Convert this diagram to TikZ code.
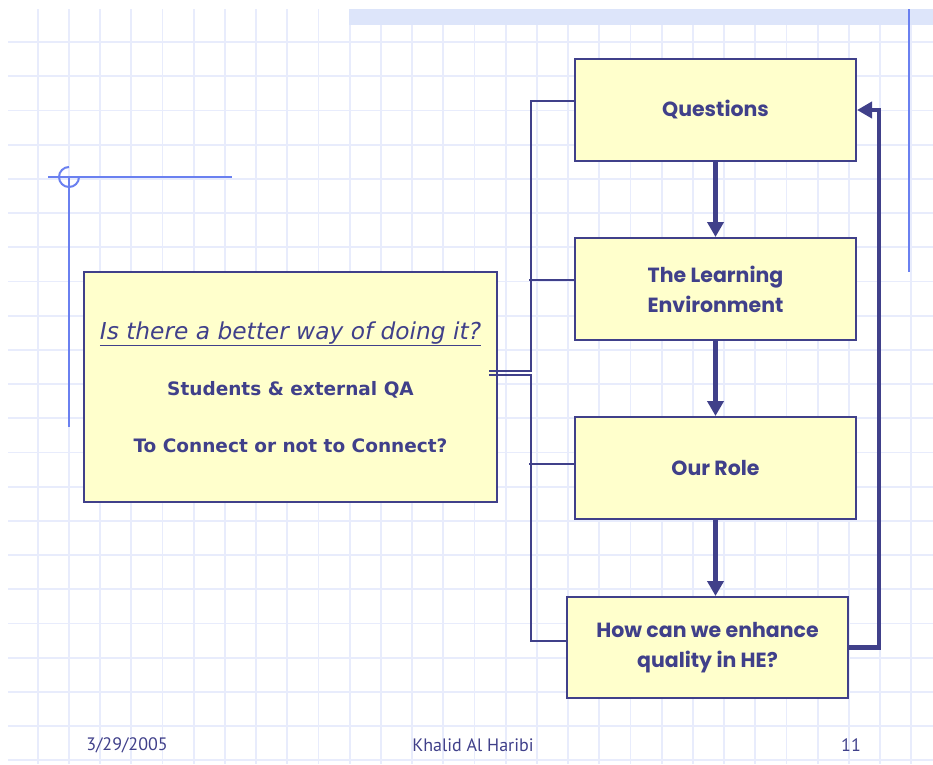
\documentclass[tikz,border=0pt]{standalone}
\usepackage{fontspec}
\usepackage{tikz}
\usetikzlibrary{arrows.meta}
\setmainfont{DejaVu Sans}
\newfontfamily\boxfont{Poppins}
\newfontfamily\footfont{PT Sans}
\definecolor{navy}{RGB}{64,64,138}
\definecolor{paper}{RGB}{255,255,204}
\definecolor{gridblue}{RGB}{232,236,252}
\definecolor{bannerblue}{RGB}{221,229,250}
\definecolor{rulerblue}{RGB}{106,128,240}
\tikzset{
    stage/.style={draw=navy, line width=2pt, fill=paper, text=navy,
        minimum width=281pt, minimum height=102pt, align=center,
        font=\boxfont\bfseries\fontsize{20.5}{30}\selectfont},
    flow/.style={draw=navy, line width=4.5pt,
        -{Triangle[length=15pt,width=16pt]}},
    link/.style={draw=navy, line width=2pt},
    footer/.style={text=navy, font=\footfont\fontsize{18}{20}\selectfont}
}
\begin{document}
\begin{tikzpicture}[x=1pt, y=-1pt]
    \useasboundingbox (0,0) rectangle (933,764);
    % paper grid
    \foreach \i in {0,...,28}
        \draw [gridblue, line width=1.8pt] (37.7+31.2*\i, 9) -- (37.7+31.2*\i, 764);
    \foreach \j in {0,...,21}
        \draw [gridblue, line width=1.8pt] (8, 42+34.2*\j) -- (933, 42+34.2*\j);
    \fill [bannerblue] (349,9) rectangle (933,25);

    % slide ornaments
    \draw [rulerblue, line width=2pt] (909,9) -- (909,272);
    \draw [rulerblue, line width=2pt] (48,177) -- (232,177);
    \draw [rulerblue, line width=2pt] (69,177) -- (69,427);
    \draw [rulerblue, line width=2pt] (69,167) arc [start angle=90, end angle=360, radius=10pt];

    % boxes
    \node [stage] (qst)  at (715.5,110)   {Questions};
    \node [stage] (env)  at (715.5,289)   {The Learning\\Environment};
    \node [stage] (role) at (715.5,468)   {Our Role};
    \node [stage, minimum height=101pt] (how) at (707.5,647.5) {How can we enhance\\quality in HE?};
    \node [draw=navy, line width=2pt, fill=paper, text=navy, align=center,
           minimum width=413pt, minimum height=230pt] (issue) at (290.5,387)
        {{\fontsize{23.3}{23}\selectfont\itshape\underline{Is there a better way of doing it?}}\\[35pt]
         {\fontsize{18.5}{18}\selectfont\bfseries Students \& external QA}\\[39pt]
         {\fontsize{18.5}{18}\selectfont\bfseries To Connect or not to Connect?}};

    % Now draw the lines:
    \draw [flow] (qst) -- (env);
    \draw [flow] (env) -- (role);
    \draw [flow] (role) -- (role |- how.north);
    \draw [flow] (how.east) -- ++(30pt,0) |- (qst.east);

    \draw [link] ([yshift=9pt]qst.west) -| ([xshift=33pt,yshift=16pt]issue.east)
        -- ([xshift=-9pt,yshift=16pt]issue.east);
    \draw [link] ([yshift=6.5pt]how.west) -| ([xshift=33pt,yshift=12pt]issue.east)
        -- ([xshift=-9pt,yshift=12pt]issue.east);
    \draw [link] ([yshift=9pt]env.west) -- ++(-45pt,0);
    \draw [link] ([yshift=4pt]role.west) -- ++(-45pt,0);

    % footer
    \node [footer] (date)   at (127,745) {3/29/2005};
    \node [footer] (author) at (473,745) {Khalid Al Haribi};
    \node [footer] (page)   at (851,745) {11};
\end{tikzpicture}
\end{document}
